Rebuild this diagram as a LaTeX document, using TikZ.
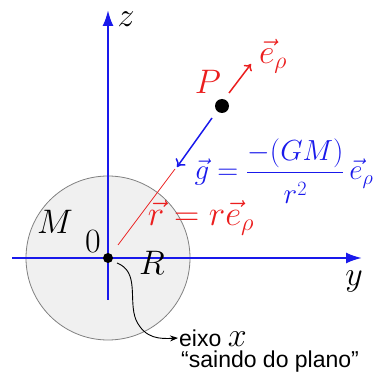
\RequirePackage{fix-cm}
\documentclass[tikz,border=0pt]{standalone}
\usepackage{amsmath,amssymb}
\usepackage{fontspec}
\setsansfont{Liberation Sans}
\usetikzlibrary{arrows.meta}
\definecolor{azul}{RGB}{25,25,235}
\definecolor{verm}{RGB}{235,30,30}

\begin{document}
\begin{tikzpicture}[x=1pt,y=1pt,
  eixo/.style={azul,line width=2.2pt,-{Latex[length=16pt,width=11pt]}},
  rotulo/.style={inner sep=0pt,font=\fontsize{34}{38}\selectfont},
  texto/.style={inner sep=1pt,anchor=west,font=\sffamily\fontsize{23}{26}\selectfont},
  ponto/.style={circle,fill=black,inner sep=0pt}]
\useasboundingbox (0,0) rectangle (375,376);

% esfera de massa M
\node[circle,draw=gray,fill=gray!12,line width=0.8pt,minimum size=164pt,inner sep=0pt] (esfera) at (108,118) {};

% eixos
\coordinate (zb) at (108,76);
\coordinate (zt) at (108,366);
\coordinate (ye) at (12,118);
\coordinate (yd) at (362,118);
\draw[eixo] (zb) -- (zt);
\draw[eixo] (ye) -- (yd);
\node[ponto,minimum size=10pt] (o) at (108,118) {};

% ponto P e vetores
\node[ponto,minimum size=14pt] (p) at (222,270) {};
\coordinate (r0) at (118,131);
\coordinate (r1) at (175,207);
\draw[verm,line width=0.8pt] (r0) -- (r1);
\coordinate (e0) at (229,283);
\coordinate (e1) at (251,312);
\draw[verm,line width=1.5pt,-{To[length=6pt,width=10pt]}] (e0) -- (e1);
\coordinate (g0) at (212,258);
\coordinate (g1) at (177,209);
\draw[azul,line width=1.5pt,-{To[length=7pt,width=12pt]}] (g0) -- (g1);

% rotulos
\node[rotulo] (lz) at (126,357) {$z$};
\node[rotulo] (ly) at (354,95) {$y$};
\node[rotulo,verm] (lp) at (208,294) {$P$};
\node[rotulo,verm] (le) at (273,320) {$\vec{e}_\rho$};
\node[rotulo,azul,font=\fontsize{29}{33}\selectfont] (lg) at (284,205)
  {$\vec{g}=\dfrac{-(GM)\rule[-7pt]{0pt}{7pt}}{\rule{0pt}{27pt}r^2}\,\vec{e}_\rho$};
\node[rotulo,verm,font=\fontsize{35}{39}\selectfont] (lr) at (201,158) {$\vec{r}=r\vec{e}_\rho$};
\node[rotulo] (lm) at (55,154) {$M$};
\node[rotulo] (l0) at (93,134) {$0$};
\node[rotulo] (lR) at (152,113) {$R$};

% eixo x saindo do plano
\node[texto] (lx) at (178,38) {eixo {\rmfamily\fontsize{34}{38}\selectfont$x$}};
\node[texto] (lpl) at (180,14) {“saindo do plano”};
\coordinate (c0) at (117,113);
\draw[line width=0.9pt,-{Stealth[length=8pt,width=6pt]}] (c0) .. controls (140,104) and (128,76) .. (136,56) .. controls (145,37) and (160,37) .. (lx.west);

\end{tikzpicture}
\end{document}
